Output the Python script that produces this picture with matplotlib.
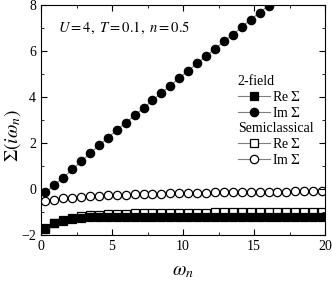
import numpy as np
import matplotlib.pyplot as plt
from matplotlib.ticker import MultipleLocator

plt.rcParams['font.family'] = ['Liberation Serif', 'DejaVu Serif']
plt.rcParams['mathtext.fontset'] = 'stix'

# Matsubara frequencies (T = 0.1)
omega = [0.31, 0.94, 1.57, 2.20, 2.83, 3.46, 4.08, 4.71, 5.34, 5.97, 6.60,
         7.23, 7.85, 8.48, 9.11, 9.74, 10.37, 11.00, 11.62, 12.25, 12.88,
         13.51, 14.14, 14.77, 15.39, 16.02, 16.65, 17.28, 17.91, 18.54,
         19.16, 19.79]

# 2-field
re_2f = [-1.72, -1.50, -1.37, -1.30, -1.25, -1.22, -1.21, -1.20, -1.20, -1.20,
         -1.20, -1.20, -1.20, -1.20, -1.20, -1.20, -1.20, -1.20, -1.20, -1.20,
         -1.20, -1.20, -1.20, -1.20, -1.20, -1.20, -1.20, -1.20, -1.20, -1.20,
         -1.20, -1.20]
im_2f = [-0.15, 0.17, 0.50, 0.85, 1.20, 1.55, 1.90, 2.22, 2.57, 2.88, 3.20,
         3.53, 3.85, 4.18, 4.50, 4.82, 5.15, 5.47, 5.77, 6.10, 6.42, 6.72,
         7.05, 7.37, 7.67, 7.98, 8.30, 8.62, 8.93, 9.25, 9.57, 9.88]

# Semiclassical
re_sc = [-1.70, -1.48, -1.34, -1.25, -1.19, -1.15, -1.12, -1.10, -1.08, -1.07,
         -1.06, -1.05, -1.05, -1.04, -1.04, -1.03, -1.03, -1.03, -1.03, -1.02,
         -1.02, -1.02, -1.02, -1.02, -1.02, -1.01, -1.01, -1.01, -1.01, -1.01,
         -1.01, -1.00]
im_sc = [-0.51, -0.46, -0.41, -0.37, -0.34, -0.31, -0.29, -0.27, -0.25, -0.24,
         -0.23, -0.22, -0.21, -0.20, -0.19, -0.18, -0.17, -0.16, -0.16, -0.15,
         -0.14, -0.14, -0.13, -0.13, -0.12, -0.12, -0.11, -0.11, -0.10, -0.10,
         -0.09, -0.09]

fig = plt.figure(figsize=(3.32, 2.82), dpi=100)
ax = fig.add_axes([0.1235, 0.1667, 0.8555, 0.8153])

line_kw = dict(color='#7f7f7f', lw=0.8, ms=6.0, mec='black', mew=0.9)
h1, = ax.plot(omega, re_2f, marker='s', mfc='black', label=r'Re $\Sigma$', **line_kw)
h2, = ax.plot(omega, im_2f, marker='o', mfc='black', label=r'Im $\Sigma$', **line_kw)
h3, = ax.plot(omega, re_sc, marker='s', mfc='white', label=r'Re $\Sigma$', **line_kw)
h4, = ax.plot(omega, im_sc, marker='o', mfc='white', label=r'Im $\Sigma$', **line_kw)
for h in (h3, h4):
    h.set_zorder(1.5)

ax.set_xlim(0, 20)
ax.set_ylim(-2, 8)
ax.xaxis.set_major_locator(MultipleLocator(5))
ax.xaxis.set_minor_locator(MultipleLocator(2.5))
ax.yaxis.set_major_locator(MultipleLocator(2))
ax.yaxis.set_minor_locator(MultipleLocator(1))
ax.tick_params(which='both', direction='in', top=True, right=True, labelsize=10)
ax.tick_params(which='major', length=4)
ax.tick_params(which='minor', length=2)

ax.set_xlabel(r'$\omega_n$', fontsize=14)
ax.xaxis.set_label_coords(0.5, -0.12)
ax.set_ylabel(r'$\Sigma(i\omega_n)$', fontsize=14)
ax.yaxis.set_label_coords(-0.065, 0.43)

ax.text(0.06, 0.885, r'$U=4,\ T=0.1,\ n=0.5$', transform=ax.transAxes,
        fontsize=10.5)

leg_kw = dict(loc='upper left', frameon=False, fontsize=10, handlelength=2.3,
              handletextpad=0.2, borderpad=0, labelspacing=0.12,
              alignment='left', title_fontsize=10)
leg1 = ax.legend(handles=[h1, h2], title='2-field',
                 bbox_to_anchor=(0.668, 0.725), **leg_kw)
ax.add_artist(leg1)
ax.legend(handles=[h3, h4], title='Semiclassical',
          bbox_to_anchor=(0.668, 0.52), **leg_kw)

fig.savefig('out.png', dpi=100)
